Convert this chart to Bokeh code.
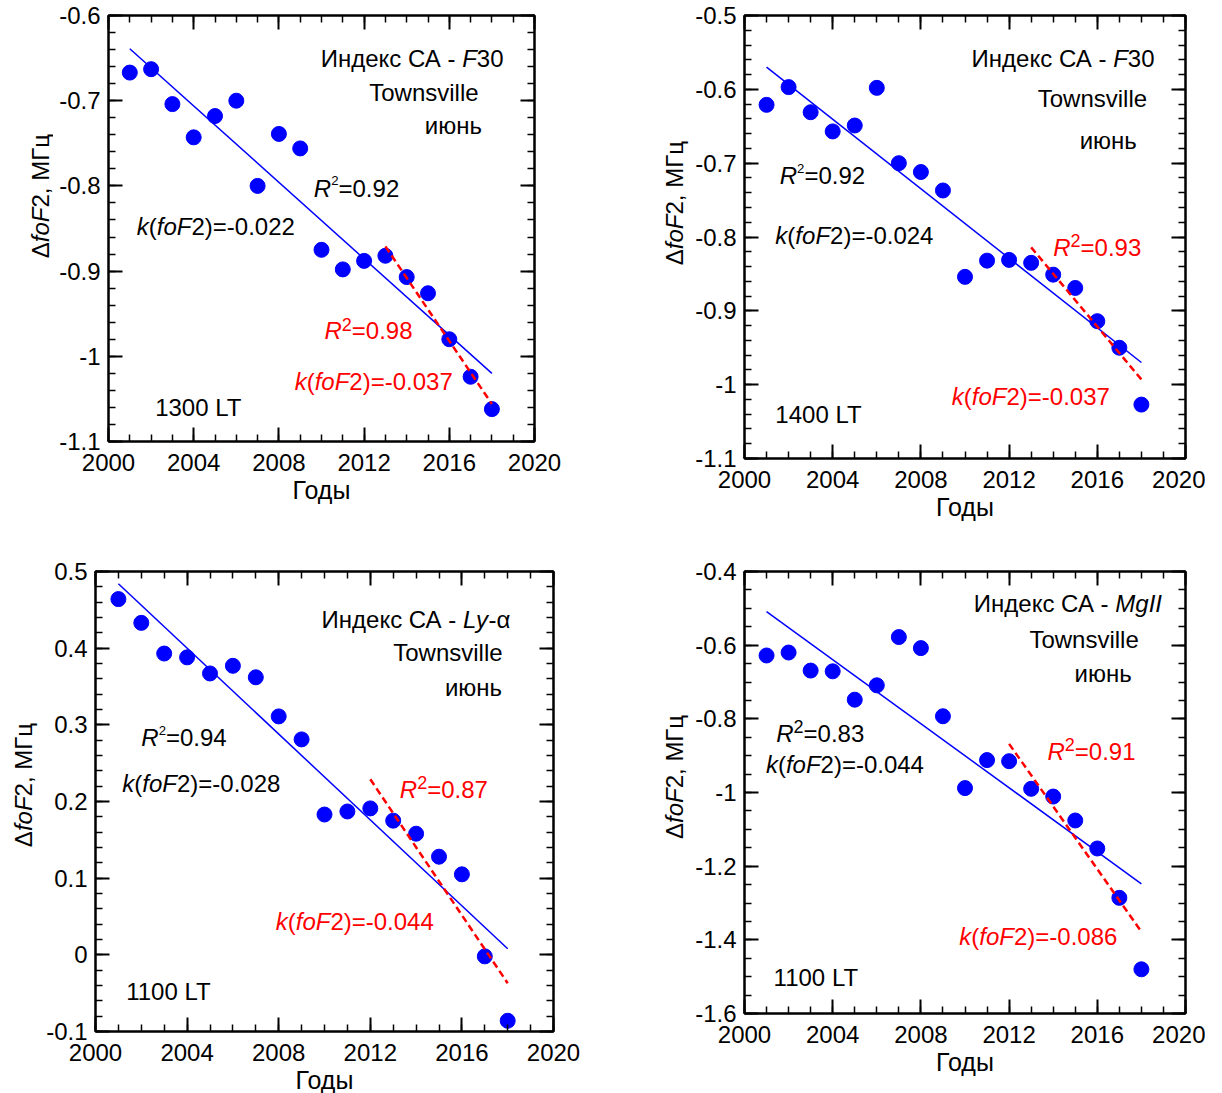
import math
from bokeh.plotting import figure
from bokeh.layouts import column, row
from bokeh.models import Range1d, FixedTicker, LinearAxis, Label, CustomJSTickFormatter
from bokeh.embed import file_html
from bokeh.resources import INLINE

FONT = "Liberation Sans"

# ---------------- data ----------------
years = [2001, 2002, 2003, 2004, 2005, 2006, 2007, 2008, 2009,
         2010, 2011, 2012, 2013, 2014, 2015, 2016, 2017, 2018]

dfof2_f30_1300 = [-0.667, -0.663, -0.704, -0.743, -0.718, -0.700, -0.800, -0.739, -0.756,
                  -0.875, -0.898, -0.888, -0.882, -0.907, -0.926, -0.980, -1.024, -1.062]
dfof2_f30_1400 = [-0.621, -0.597, -0.631, -0.657, -0.649, -0.598, -0.700, -0.712, -0.737,
                  -0.854, -0.832, -0.831, -0.835, -0.851, -0.869, -0.914, -0.950, -1.027]
dfof2_lya_1100 = [0.464, 0.433, 0.393, 0.388, 0.367, 0.377, 0.362, 0.311, 0.281,
                  0.183, 0.187, 0.191, 0.175, 0.158, 0.128, 0.105, -0.002, -0.086]
dfof2_mg2_1100 = [-0.628, -0.620, -0.669, -0.671, -0.748, -0.709, -0.578, -0.608, -0.793,
                  -0.988, -0.912, -0.915, -0.990, -1.011, -1.076, -1.152, -1.286, -1.480]

# linear trends (end points)
trend_all_x = [2001, 2018]
trend_all_y_f30_1300 = [-0.639, -1.020]
trend_all_y_f30_1400 = [-0.570, -0.970]
trend_all_y_lya_1100 = [0.484, 0.008]
trend_all_y_mg2_1100 = [-0.509, -1.248]

trend_recent_x_f30_1300 = [2013, 2018]
trend_recent_y_f30_1300 = [-0.871, -1.056]
trend_recent_x_f30_1400 = [2013, 2018]
trend_recent_y_f30_1400 = [-0.814, -0.993]
trend_recent_x_lya_1100 = [2012, 2018]
trend_recent_y_lya_1100 = [0.229, -0.037]
trend_recent_x_mg2_1100 = [2012, 2018]
trend_recent_y_mg2_1100 = [-0.868, -1.378]

r2_all = ["0.92", "0.92", "0.94", "0.83"]
r2_recent = ["0.98", "0.93", "0.87", "0.91"]
k_all = ["-0.022", "-0.024", "-0.028", "-0.044"]
k_recent = ["-0.037", "-0.037", "-0.044", "-0.086"]
local_times = ["1300 LT", "1400 LT", "1100 LT", "1100 LT"]
index_names = ["F30", "F30", "Ly-α", "MgII"]
station = "Townsville"
month = "июнь"
x_label = "Годы"

x_major_ticks = [2000, 2004, 2008, 2012, 2016, 2020]
x_minor_ticks = list(range(2000, 2021))
y_major_ticks_1 = [-1.1, -1.0, -0.9, -0.8, -0.7, -0.6]
y_major_ticks_2 = [-1.1, -1.0, -0.9, -0.8, -0.7, -0.6, -0.5]
y_major_ticks_3 = [-0.1, 0.0, 0.1, 0.2, 0.3, 0.4, 0.5]
y_major_ticks_4 = [-1.6, -1.4, -1.2, -1.0, -0.8, -0.6, -0.4]
y_minor_ticks_1 = [round(-1.1 + 0.02 * i, 3) for i in range(26)]
y_minor_ticks_2 = [round(-1.1 + 0.02 * i, 3) for i in range(31)]
y_minor_ticks_3 = [round(-0.1 + 0.02 * i, 3) for i in range(31)]
y_minor_ticks_4 = [round(-1.6 + 0.05 * i, 3) for i in range(25)]

# ---------------- helpers ----------------
WIDTHS = {' ': 278, '(': 333, ')': 333, '=': 584, '-': 333, '.': 278, ',': 278,
          'k': 500, 'f': 278, 'o': 556, 'F': 611, 'R': 722, 'L': 556, 'T': 611,
          'y': 500, 'M': 833, 'g': 556, 'I': 278, 'Δ': 668, 'α': 578,
          'И': 722, 'н': 552, 'д': 573, 'е': 556, 'к': 438, 'с': 500, 'С': 722,
          'А': 667, 'Г': 552, 'ц': 573, 'М': 833}

ANN = 24      # annotation font size (px)
TICK = 24     # tick label font size (px)


def text_width(s, size):
    return sum(WIDTHS.get(c, 556) for c in s) / 1000.0 * size


def rich(p, x, y, parts, color="black", size=ANN, angle=0.0, x_off=0.0, y_off=0.0):
    pos = 0.0
    for part in parts:
        txt, italic = part[0], part[1]
        scale = part[2] if len(part) > 2 else 1.0
        rise = part[3] if len(part) > 3 else 0.0
        fs = size * scale
        if angle == 0:
            xo, yo = x_off + pos, y_off + rise * size
        else:
            xo, yo = x_off - rise * size, y_off + pos
        p.add_layout(Label(x=x, y=y, x_offset=xo, y_offset=yo, text=txt,
                           text_font=FONT, text_font_size=f"{fs:.1f}px",
                           text_font_style="italic" if italic else "normal",
                           text_color=color, text_align="left", text_baseline="middle",
                           angle=angle))
        pos += text_width(txt, fs)
    return pos


def parts_width(parts, size):
    w = 0.0
    for part in parts:
        scale = part[2] if len(part) > 2 else 1.0
        w += text_width(part[0], size * scale)
    return w


Y_FMT = CustomJSTickFormatter(code="""
var s = tick.toFixed(1);
if (s.slice(-2) === '.0') { s = s.slice(0, -2); }
if (s === '-0') { s = '0'; }
return s;
""")
X_FMT = CustomJSTickFormatter(code="return tick.toFixed(0);")


def style_axis(ax, labels=True, standoff=8):
    ax.axis_line_color = "black"
    ax.axis_line_width = 2
    ax.major_tick_in = 14
    ax.major_tick_out = 0
    ax.minor_tick_in = 7
    ax.minor_tick_out = 0
    ax.major_tick_line_color = "black"
    ax.major_tick_line_width = 2
    ax.minor_tick_line_color = "black"
    ax.minor_tick_line_width = 1.5
    if labels:
        ax.major_label_text_font = FONT
        ax.major_label_text_font_size = f"{TICK}px"
        ax.major_label_text_color = "black"
        ax.major_label_standoff = standoff
    else:
        ax.major_label_text_font_size = "0px"
        ax.major_label_standoff = 0


def ylabel_strip(width, height, cx, cy_from_top):
    """Narrow canvas left of a panel that carries the rotated y-axis title."""
    s = figure(width=width, height=height, x_range=Range1d(0, width), y_range=Range1d(0, height),
               x_axis_location=None, y_axis_location=None, toolbar_location=None,
               output_backend="svg", title=None, min_border=0)
    s.grid.visible = False
    s.outline_line_color = None
    s.background_fill_color = "white"
    s.border_fill_color = "white"
    ylab = [("Δ", False), ("foF", True), ("2, МГц", False)]
    tot = parts_width(ylab, ANN)
    rich(s, cx, height - cy_from_top, ylab, angle=math.pi / 2, y_off=-tot / 2.0)
    return s


def make_panel(i, values, y_rng, y_major, y_minor, t_all_y, t_rec_x, t_rec_y,
               frame, borders, pos, r2_all_small):
    fw, fh = frame
    bl, bt, br, bb = borders
    p = figure(frame_width=fw, frame_height=fh,
               x_range=Range1d(2000, 2020), y_range=Range1d(*y_rng),
               toolbar_location=None, output_backend="svg", title=None,
               min_border_left=bl, min_border_top=bt, min_border_right=br, min_border_bottom=bb)
    p.xgrid.visible = False
    p.ygrid.visible = False
    p.background_fill_color = "white"
    p.border_fill_color = "white"
    p.outline_line_color = "black"
    p.outline_line_width = 2

    xa = p.xaxis[0]
    xa.ticker = FixedTicker(ticks=x_major_ticks, minor_ticks=x_minor_ticks)
    xa.formatter = X_FMT
    style_axis(xa, standoff=12)
    xa.axis_label = x_label
    xa.axis_label_text_font = FONT
    xa.axis_label_text_font_size = "25px"
    xa.axis_label_text_font_style = "normal"
    xa.axis_label_text_color = "black"
    xa.axis_label_standoff = 2
    ya = p.yaxis[0]
    ya.ticker = FixedTicker(ticks=y_major, minor_ticks=y_minor)
    ya.formatter = Y_FMT
    style_axis(ya, standoff=8)

    empty = CustomJSTickFormatter(code="return '';")
    ra = LinearAxis(ticker=FixedTicker(ticks=y_major, minor_ticks=y_minor), formatter=empty)
    style_axis(ra, labels=False)
    p.add_layout(ra, "right")
    aa = LinearAxis(ticker=FixedTicker(ticks=x_major_ticks, minor_ticks=x_minor_ticks), formatter=empty)
    style_axis(aa, labels=False)
    p.add_layout(aa, "above")

    # marks
    p.scatter(years, values, size=15, marker="circle", fill_color="#0000ff", line_color="#0000ff")
    p.line(trend_all_x, t_all_y, line_color="#0000ff", line_width=1.5)
    p.line(t_rec_x, t_rec_y, line_color="#ff0000", line_width=2.5, line_dash="7 4")

    # annotations
    name = index_names[i]
    if name == "F30":
        title_parts = [("Индекс СА - ", False), ("F", True), ("30", False)]
    elif name == "Ly-α":
        title_parts = [("Индекс СА - ", False), ("Ly", True), ("-α", False)]
    else:
        title_parts = [("Индекс СА - ", False), ("MgII", True)]
    rich(p, *pos["title"], title_parts)
    rich(p, *pos["station"], [(station, False)])
    rich(p, *pos["month"], [(month, False)])
    if r2_all_small:
        sup = ("2", False, 0.55, 0.32)
    else:
        sup = ("2", False, 0.75, 0.28)
    rich(p, *pos["r2_all"], [("R", True), sup, ("=" + r2_all[i], False)])
    rich(p, *pos["k_all"], [("k", True), ("(", False), ("foF", True), ("2)=" + k_all[i], False)])
    rich(p, *pos["r2_rec"], [("R", True), ("2", False, 0.75, 0.28), ("=" + r2_recent[i], False)],
         color="#ff0000")
    rich(p, *pos["k_rec"], [("k", True), ("(", False), ("foF", True), ("2)=" + k_recent[i], False)],
         color="#ff0000")
    rich(p, *pos["lt"], [(local_times[i], False)])
    return p


pos1 = {"title": (2009.96, -0.651), "station": (2012.24, -0.690), "month": (2014.85, -0.729),
        "r2_all": (2009.64, -0.803), "k_all": (2001.33, -0.848), "r2_rec": (2010.14, -0.970),
        "k_rec": (2008.74, -1.029), "lt": (2002.19, -1.060)}
pos2 = {"title": (2010.3, -0.558), "station": (2013.3, -0.612), "month": (2015.2, -0.669),
        "r2_all": (2001.6, -0.717), "k_all": (2001.4, -0.798), "r2_rec": (2014.0, -0.814),
        "k_rec": (2009.4, -1.016), "lt": (2001.4, -1.040)}
pos3 = {"title": (2009.87, 0.438), "station": (2013.0, 0.394), "month": (2015.26, 0.349),
        "r2_all": (2002.0, 0.283), "k_all": (2001.17, 0.223), "r2_rec": (2013.29, 0.216),
        "k_rec": (2007.87, 0.044), "lt": (2001.34, -0.048)}
pos4 = {"title": (2010.4, -0.488), "station": (2012.92, -0.585), "month": (2014.97, -0.676),
        "r2_all": (2001.44, -0.839), "k_all": (2000.97, -0.925), "r2_rec": (2013.74, -0.888),
        "k_rec": (2009.74, -1.390), "lt": (2001.32, -1.503)}

p1 = make_panel(0, dfof2_f30_1300, (-1.1, -0.6), y_major_ticks_1, y_minor_ticks_1,
                trend_all_y_f30_1300, trend_recent_x_f30_1300, trend_recent_y_f30_1300,
                (426, 426), (55, 15, 90, 97), pos1, True)
p2 = make_panel(1, dfof2_f30_1400, (-1.1, -0.5), y_major_ticks_2, y_minor_ticks_2,
                trend_all_y_f30_1400, trend_recent_x_f30_1400, trend_recent_y_f30_1400,
                (441, 443), (55, 15, 20, 80), pos2, True)
p3 = make_panel(2, dfof2_lya_1100, (-0.1, 0.5), y_major_ticks_3, y_minor_ticks_3,
                trend_all_y_lya_1100, trend_recent_x_lya_1100, trend_recent_y_lya_1100,
                (458, 460), (55, 33, 71, 40), pos3, True)
p4 = make_panel(3, dfof2_mg2_1100, (-1.6, -0.4), y_major_ticks_4, y_minor_ticks_4,
                trend_all_y_mg2_1100, trend_recent_x_mg2_1100, trend_recent_y_mg2_1100,
                (441, 442), (55, 32, 20, 40), pos4, False)

s1 = ylabel_strip(53, 538, 40, 228)
s2 = ylabel_strip(65, 538, 49.7, 236.8)
s3 = ylabel_strip(40, 520, 23, 263)
s4 = ylabel_strip(65, 520, 49.7, 253)

layout = column(row(s1, p1, s2, p2, spacing=0), row(s3, p3, s4, p4, spacing=0), spacing=0)

with open("out.html", "w") as f:
    f.write(file_html(layout, INLINE))
